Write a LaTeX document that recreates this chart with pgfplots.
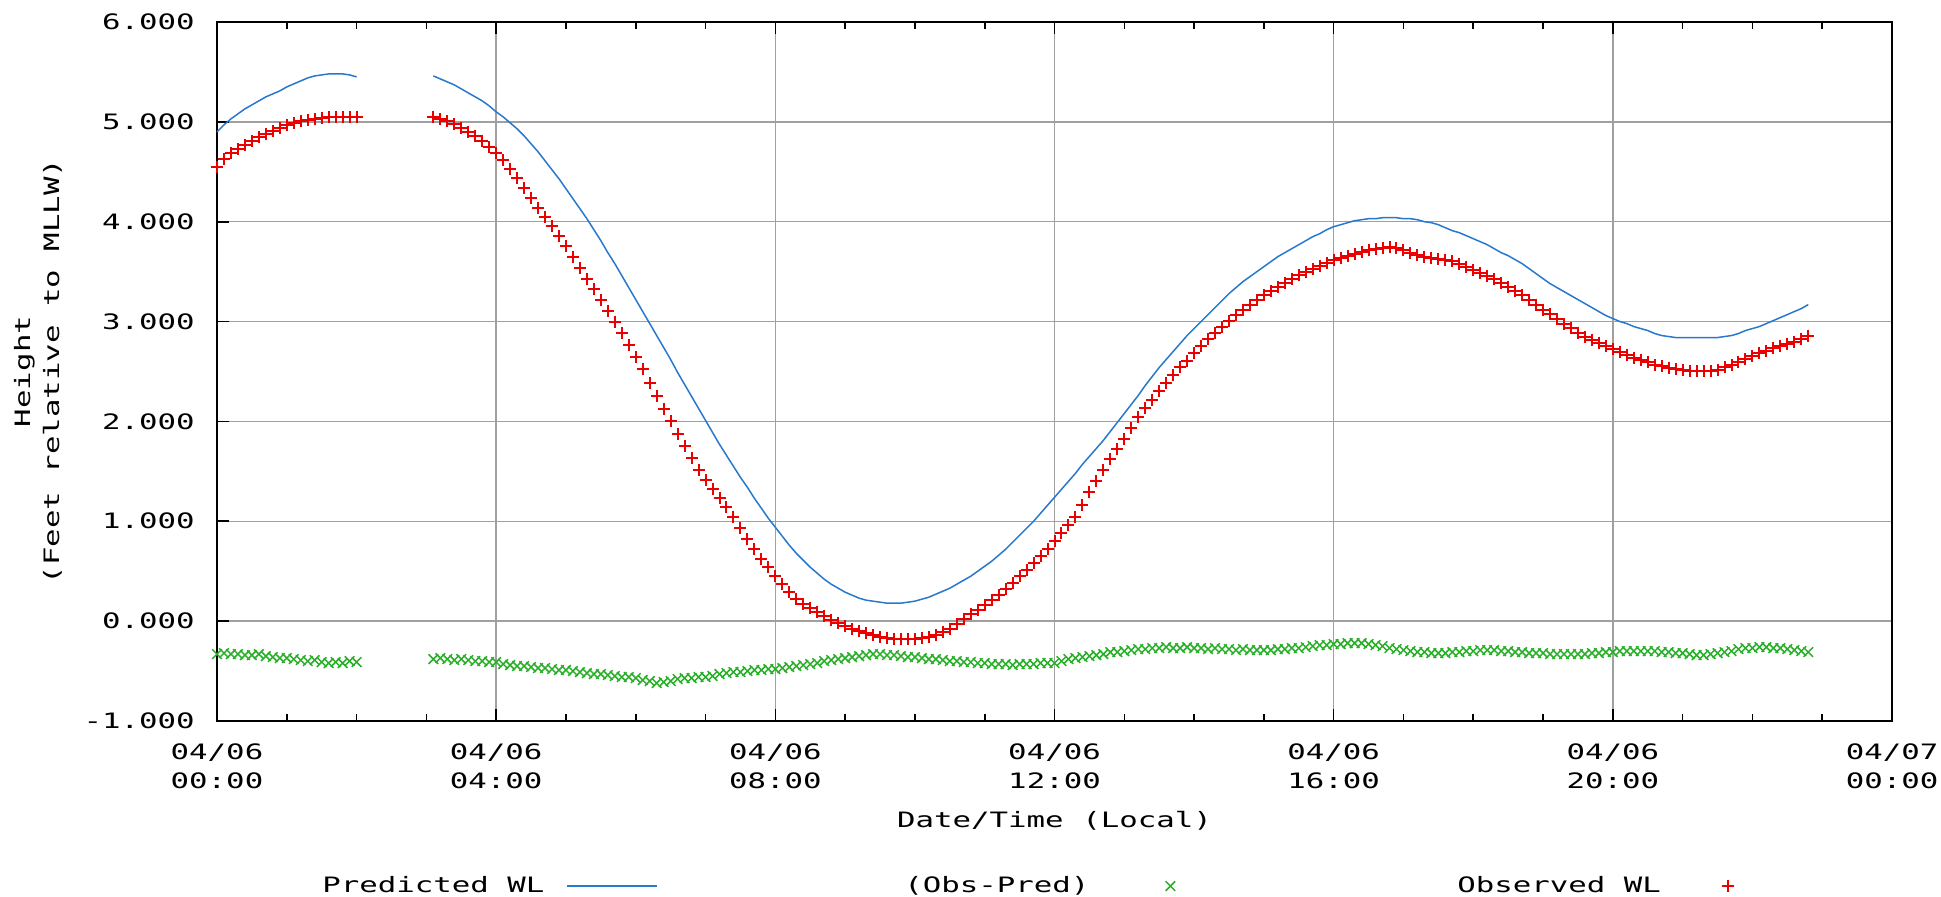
\documentclass[border=0pt]{standalone}
\usepackage{fontspec}
\usepackage{pgfplots}
\usepackage{pgfplotstable}
\pgfplotsset{compat=1.18}
\newfontfamily\gfont{DejaVu Sans Mono}[FakeStretch=1.45]
\definecolor{predblue}{RGB}{40,120,205}
\definecolor{obsred}{RGB}{235,0,0}
\definecolor{diffgreen}{RGB}{40,175,40}
\definecolor{gridgray}{RGB}{160,160,160}

\pgfplotstableread{
t P O D
0.0 4.90 4.55 -0.33
0.1 4.97 4.63 -0.32
0.2 5.03 4.69 -0.33
0.3 5.08 4.73 -0.33
0.4 5.13 4.77 -0.34
0.5 5.17 4.81 -0.34
0.6 5.21 4.85 -0.33
0.7 5.25 4.88 -0.35
0.8 5.28 4.91 -0.36
0.9 5.31 4.94 -0.37
1.0 5.35 4.97 -0.37
1.1 5.38 4.99 -0.38
1.2 5.41 5.01 -0.39
1.3 5.44 5.02 -0.40
1.4 5.46 5.03 -0.39
1.5 5.47 5.04 -0.41
1.6 5.48 5.05 -0.42
1.7 5.48 5.05 -0.41
1.8 5.48 5.05 -0.42
1.9 5.47 5.05 -0.40
2.0 5.45 5.05 -0.41
2.5 nan nan nan
3.1 5.46 5.05 -0.38
3.2 5.43 5.03 -0.37
3.3 5.40 5.01 -0.38
3.4 5.37 4.98 -0.39
3.5 5.33 4.94 -0.38
3.6 5.29 4.90 -0.39
3.7 5.25 4.86 -0.40
3.8 5.21 4.81 -0.40
3.9 5.16 4.75 -0.41
4.0 5.10 4.69 -0.41
4.1 5.05 4.62 -0.43
4.2 4.99 4.53 -0.44
4.3 4.93 4.44 -0.45
4.4 4.86 4.34 -0.45
4.5 4.78 4.24 -0.46
4.6 4.70 4.14 -0.47
4.7 4.61 4.05 -0.47
4.8 4.52 3.96 -0.48
4.9 4.43 3.86 -0.49
5.0 4.33 3.76 -0.49
5.1 4.23 3.65 -0.50
5.2 4.13 3.54 -0.51
5.3 4.03 3.43 -0.52
5.4 3.92 3.33 -0.53
5.5 3.81 3.22 -0.53
5.6 3.69 3.11 -0.54
5.7 3.58 3.00 -0.55
5.8 3.46 2.89 -0.56
5.9 3.34 2.77 -0.56
6.0 3.22 2.65 -0.57
6.1 3.10 2.52 -0.59
6.2 2.98 2.38 -0.60
6.3 2.86 2.25 -0.62
6.4 2.74 2.12 -0.61
6.5 2.62 2.00 -0.60
6.6 2.49 1.87 -0.58
6.7 2.37 1.75 -0.57
6.8 2.25 1.63 -0.57
6.9 2.13 1.51 -0.56
7.0 2.01 1.41 -0.56
7.1 1.89 1.32 -0.55
7.2 1.77 1.23 -0.53
7.3 1.66 1.14 -0.52
7.4 1.55 1.04 -0.51
7.5 1.44 0.93 -0.51
7.6 1.34 0.82 -0.50
7.7 1.23 0.72 -0.49
7.8 1.13 0.62 -0.49
7.9 1.03 0.54 -0.48
8.0 0.94 0.45 -0.48
8.1 0.85 0.37 -0.47
8.2 0.76 0.29 -0.46
8.3 0.68 0.22 -0.45
8.4 0.61 0.17 -0.44
8.5 0.54 0.13 -0.43
8.6 0.48 0.09 -0.42
8.7 0.42 0.05 -0.40
8.8 0.37 0.01 -0.39
8.9 0.33 -0.02 -0.38
9.0 0.29 -0.05 -0.37
9.1 0.26 -0.08 -0.36
9.2 0.23 -0.10 -0.35
9.3 0.21 -0.12 -0.34
9.4 0.20 -0.14 -0.33
9.5 0.19 -0.16 -0.33
9.6 0.18 -0.17 -0.34
9.7 0.18 -0.18 -0.34
9.8 0.18 -0.18 -0.35
9.9 0.19 -0.18 -0.36
10.0 0.20 -0.18 -0.36
10.1 0.22 -0.17 -0.37
10.2 0.24 -0.16 -0.38
10.3 0.27 -0.14 -0.38
10.4 0.30 -0.11 -0.39
10.5 0.33 -0.08 -0.40
10.6 0.37 -0.03 -0.40
10.7 0.41 0.02 -0.41
10.8 0.45 0.07 -0.41
10.9 0.50 0.11 -0.42
11.0 0.55 0.16 -0.42
11.1 0.60 0.21 -0.43
11.2 0.66 0.26 -0.43
11.3 0.72 0.32 -0.43
11.4 0.79 0.38 -0.44
11.5 0.86 0.45 -0.43
11.6 0.93 0.51 -0.43
11.7 1.00 0.58 -0.43
11.8 1.08 0.65 -0.42
11.9 1.16 0.72 -0.42
12.0 1.24 0.80 -0.42
12.1 1.32 0.88 -0.40
12.2 1.40 0.96 -0.38
12.3 1.48 1.04 -0.37
12.4 1.57 1.16 -0.36
12.5 1.65 1.29 -0.35
12.6 1.73 1.40 -0.34
12.7 1.81 1.51 -0.33
12.8 1.90 1.62 -0.31
12.9 1.99 1.72 -0.31
13.0 2.08 1.82 -0.30
13.1 2.17 1.93 -0.29
13.2 2.26 2.04 -0.28
13.3 2.36 2.13 -0.28
13.4 2.45 2.21 -0.27
13.5 2.54 2.30 -0.27
13.6 2.62 2.38 -0.26
13.7 2.70 2.46 -0.27
13.8 2.78 2.54 -0.27
13.9 2.86 2.61 -0.26
14.0 2.93 2.69 -0.27
14.1 3.00 2.76 -0.27
14.2 3.07 2.83 -0.28
14.3 3.14 2.89 -0.27
14.4 3.21 2.95 -0.28
14.5 3.28 3.01 -0.28
14.6 3.34 3.07 -0.29
14.7 3.40 3.12 -0.28
14.8 3.45 3.17 -0.29
14.9 3.50 3.22 -0.29
15.0 3.55 3.27 -0.29
15.1 3.60 3.31 -0.29
15.2 3.65 3.35 -0.28
15.3 3.69 3.39 -0.28
15.4 3.73 3.43 -0.27
15.5 3.77 3.47 -0.27
15.6 3.81 3.50 -0.26
15.7 3.85 3.53 -0.25
15.8 3.88 3.56 -0.24
15.9 3.92 3.59 -0.24
16.0 3.95 3.62 -0.23
16.1 3.97 3.64 -0.23
16.2 3.99 3.66 -0.22
16.3 4.01 3.68 -0.22
16.4 4.02 3.70 -0.22
16.5 4.03 3.72 -0.23
16.6 4.03 3.73 -0.24
16.7 4.04 3.74 -0.25
16.8 4.04 3.75 -0.27
16.9 4.04 3.74 -0.28
17.0 4.03 3.72 -0.29
17.1 4.03 3.69 -0.30
17.2 4.02 3.67 -0.31
17.3 4.00 3.65 -0.31
17.4 3.99 3.64 -0.32
17.5 3.97 3.63 -0.32
17.6 3.94 3.62 -0.32
17.7 3.91 3.61 -0.31
17.8 3.89 3.58 -0.31
17.9 3.86 3.55 -0.30
18.0 3.83 3.52 -0.30
18.1 3.80 3.49 -0.29
18.2 3.77 3.46 -0.29
18.3 3.73 3.43 -0.29
18.4 3.69 3.39 -0.30
18.5 3.66 3.35 -0.30
18.6 3.62 3.31 -0.31
18.7 3.58 3.27 -0.31
18.8 3.53 3.22 -0.32
18.9 3.48 3.17 -0.32
19.0 3.43 3.12 -0.32
19.1 3.38 3.08 -0.33
19.2 3.34 3.03 -0.33
19.3 3.30 2.98 -0.33
19.4 3.26 2.94 -0.33
19.5 3.22 2.89 -0.33
19.6 3.18 2.85 -0.33
19.7 3.14 2.82 -0.32
19.8 3.10 2.79 -0.32
19.9 3.06 2.76 -0.31
20.0 3.03 2.73 -0.31
20.1 3.00 2.70 -0.30
20.2 2.98 2.67 -0.30
20.3 2.95 2.64 -0.30
20.4 2.93 2.62 -0.30
20.5 2.91 2.60 -0.30
20.6 2.88 2.57 -0.30
20.7 2.86 2.55 -0.31
20.8 2.85 2.53 -0.31
20.9 2.84 2.52 -0.32
21.0 2.84 2.51 -0.32
21.1 2.84 2.50 -0.33
21.2 2.84 2.50 -0.34
21.3 2.84 2.50 -0.34
21.4 2.84 2.50 -0.33
21.5 2.84 2.51 -0.32
21.6 2.85 2.54 -0.31
21.7 2.86 2.57 -0.30
21.8 2.88 2.60 -0.28
21.9 2.91 2.63 -0.27
22.0 2.93 2.66 -0.27
22.1 2.95 2.69 -0.26
22.2 2.98 2.71 -0.26
22.3 3.01 2.74 -0.27
22.4 3.04 2.76 -0.27
22.5 3.07 2.78 -0.28
22.6 3.10 2.80 -0.29
22.7 3.13 2.83 -0.30
22.8 3.17 2.86 -0.31
}\tidedata

\begin{document}
\begin{tikzpicture}
\useasboundingbox (0pt,0pt) rectangle (970.5pt,448.5pt);
\begin{axis}[
  at={(108.5pt,88pt)}, anchor=south west,
  scale only axis, width=837.5pt, height=349.5pt,
  xmin=0, xmax=24, ymin=-1, ymax=6,
  clip=false,
  unbounded coords=jump,
  xtick={0,4,8,12,16,20,24},
  xticklabels={{04/06\\00:00},{04/06\\04:00},{04/06\\08:00},{04/06\\12:00},{04/06\\16:00},{04/06\\20:00},{04/07\\00:00}},
  minor x tick num=3,
  ytick={-1,0,1,2,3,4,5,6},
  yticklabels={{-1.000},{0.000},{1.000},{2.000},{3.000},{4.000},{5.000},{6.000}},
  ytick pos=left,
  tick align=inside,
  major tick length=6pt, minor tick length=3.5pt,
  every tick/.style={black, line width=0.8pt},
  grid=major,
  major grid style={gridgray, line width=0.75pt},
  axis line style={black, line width=0.9pt},
  font=\gfont\fontsize{10.6}{14.5}\selectfont,
  xticklabel style={align=center, anchor=north, inner sep=0pt, yshift=-11pt},
  yticklabel style={anchor=east, inner sep=0pt, xshift=-11pt},
  xlabel={Date/Time (Local)},
  xlabel style={at={(axis description cs:0.5,-0.1431)}, anchor=center, inner sep=0pt},
  ylabel={Height\\(Feet relative to MLLW)},
  ylabel style={at={(axis description cs:-0.1069,0.5)}, anchor=center, align=center, inner sep=0pt},
  legend plot pos=right,
  legend image code/.code={\path[draw=none,fill=none] (0pt,-3pt) rectangle (45pt,3pt);
    \draw[mark repeat=2,mark phase=2,#1] plot coordinates {(0pt,0pt) (22.5pt,0pt) (45pt,0pt)};},
  legend style={at={(axis description cs:0.05194,-0.2361)}, anchor=west,
    draw=none, fill=none, legend columns=3, inner sep=0pt,
    nodes={inner sep=0pt},
    /tikz/every odd column/.append style={column sep=11pt},
    /tikz/every even column/.append style={column sep=102.75pt}},
]
\addplot[predblue, line width=0.75pt, no marks] table[x=t, y=P] {\tidedata};
\addlegendentry{\makebox[120pt][r]{Predicted WL}}
\addplot[diffgreen, only marks, mark=x, mark size=3.4pt, line width=0.75pt] table[x=t, y=D] {\tidedata};
\addlegendentry{\makebox[120pt][r]{(Obs-Pred)\hspace{7pt}}}
\addplot[obsred, only marks, mark=+, mark size=3pt, line width=1pt] table[x=t, y=O] {\tidedata};
\addlegendentry{\makebox[120pt][r]{Observed WL}}
\end{axis}
\end{tikzpicture}
\end{document}
